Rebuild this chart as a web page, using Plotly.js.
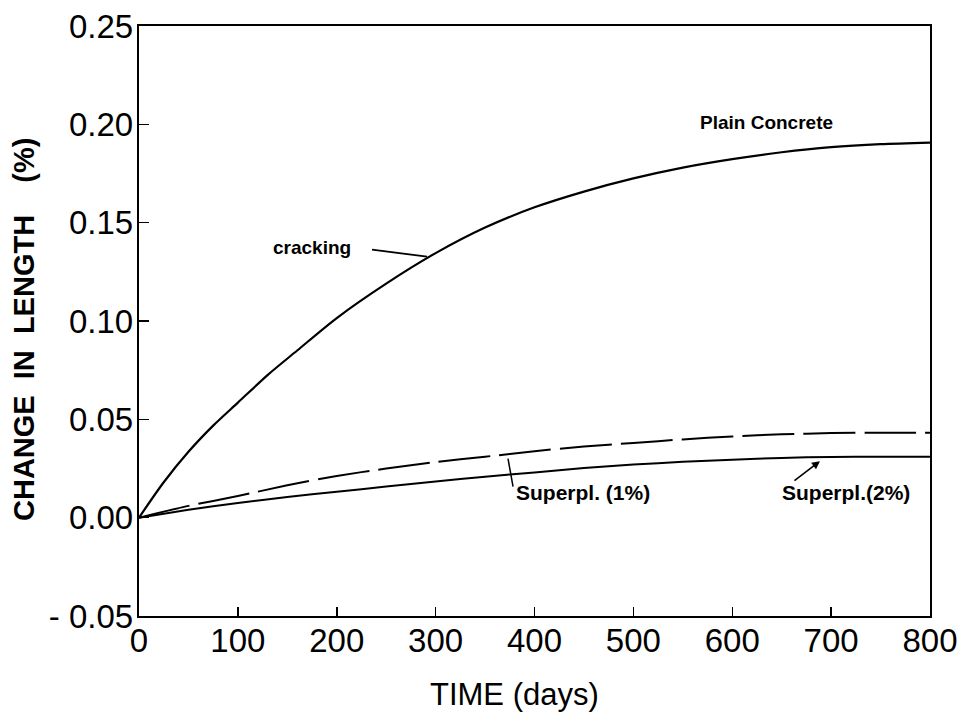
<!DOCTYPE html>
<html>
<head>
<meta charset="utf-8">
<script src="https://cdn.plot.ly/plotly-3.0.1.min.js"></script>
<style>html,body{margin:0;padding:0;background:#fff;}#chart{width:966px;height:715px;}</style>
</head>
<body>
<div id="chart"></div>
<script>
// ---- data ----
var plainDays = [0, 25, 50, 75, 100, 130, 160, 200, 250, 300, 350, 400, 450, 500, 550, 600, 650, 700, 750, 800];
var plainConcrete = [0, 0.018, 0.0335, 0.0468, 0.0585, 0.0725, 0.085, 0.1015, 0.119, 0.1345, 0.1475, 0.1578, 0.1658, 0.1725, 0.178, 0.1823, 0.1858, 0.1884, 0.1899, 0.1907];

var superDays = [0, 50, 100, 150, 200, 250, 300, 350, 400, 450, 500, 550, 600, 650, 700, 750, 800];
var superpl1 = [0, 0.006, 0.011, 0.0165, 0.0212, 0.025, 0.0283, 0.031, 0.0338, 0.0362, 0.038, 0.0398, 0.0413, 0.0424, 0.043, 0.0432, 0.0432];
var superpl2 = [0, 0.004, 0.0075, 0.0105, 0.0132, 0.0158, 0.0184, 0.0208, 0.023, 0.0252, 0.027, 0.0284, 0.0295, 0.0304, 0.0309, 0.031, 0.031];

var xTickVals = [0, 100, 200, 300, 400, 500, 600, 700, 800];
var xTickText = ['0', '100', '200', '300', '400', '500', '600', '700', '800'];
var yTickVals = [-0.05, 0, 0.05, 0.10, 0.15, 0.20, 0.25];
var yTickText = ['- 0.05', '0.00', '0.05', '0.10', '0.15', '0.20', '0.25'];

var labelPlain = 'Plain Concrete';
var labelCracking = 'cracking';
var label1 = 'Superpl. (1%)';
var label2 = 'Superpl.(2%)';
var xTitle = 'TIME (days)';
var yTitle = 'CHANGE\u00a0 IN\u00a0 LENGTH\u00a0\u00a0\u00a0 (%)';

// annotation anchor points (data coordinates)
var plainLabelPos = [565, 0.2008];
var crackLabelPos = [133, 0.1375];
var crackLeader = [[235.7, 0.1363], [291.3, 0.1327]];
var sp1LabelPos = [449, 0.0126];
var sp1Leader = [[373.2, 0.0300], [378.3, 0.0158]];
var sp2LabelPos = [715, 0.0126];
var sp2Arrow = [[661.4, 0.0183], [688.7, 0.0287]];

var FONT = 'Liberation Sans, Arial, sans-serif';

var traces = [
  {x: plainDays, y: plainConcrete, mode: 'lines', line: {color: '#000', width: 2.2, shape: 'spline', smoothing: 0.8}, hoverinfo: 'skip'},
  {x: superDays, y: superpl1, mode: 'lines', line: {color: '#000', width: 2, shape: 'spline', smoothing: 0.6, dash: '52px,9px'}, hoverinfo: 'skip'},
  {x: superDays, y: superpl2, mode: 'lines', line: {color: '#000', width: 2, shape: 'spline', smoothing: 0.6}, hoverinfo: 'skip'}
];

var layout = {
  width: 966, height: 715,
  margin: {l: 139, r: 36, t: 26, b: 99},
  paper_bgcolor: '#fff', plot_bgcolor: '#fff',
  showlegend: false,
  font: {family: FONT, color: '#000'},
  xaxis: {
    range: [0, 800], tickvals: xTickVals, ticktext: xTickText,
    ticks: 'inside', ticklen: 9, tickwidth: 1.5, tickcolor: '#000',
    showline: true, linecolor: '#000', linewidth: 2.2, mirror: true,
    showgrid: false, zeroline: false, ticklabelstandoff: -6,
    tickfont: {family: FONT, size: 33, color: '#000'}
  },
  yaxis: {
    range: [-0.05, 0.25], tickvals: yTickVals, ticktext: yTickText,
    ticks: 'inside', ticklen: 10, tickwidth: 1.5, tickcolor: '#000',
    showline: true, linecolor: '#000', linewidth: 2.2, mirror: true,
    showgrid: false, zeroline: false, ticklabelstandoff: -3,
    tickfont: {family: FONT, size: 33, color: '#000'}
  },
  shapes: [
    {type: 'line', xref: 'x', yref: 'y', x0: crackLeader[0][0], y0: crackLeader[0][1], x1: crackLeader[1][0], y1: crackLeader[1][1], line: {color: '#000', width: 1.8}},
    {type: 'line', xref: 'x', yref: 'y', x0: sp1Leader[0][0], y0: sp1Leader[0][1], x1: sp1Leader[1][0], y1: sp1Leader[1][1], line: {color: '#000', width: 1.5}}
  ],
  annotations: [
    {x: plainLabelPos[0], y: plainLabelPos[1], xref: 'x', yref: 'y', text: labelPlain, showarrow: false, xanchor: 'left', yanchor: 'middle', font: {family: FONT, size: 19, color: '#000', weight: 'bold'}},
    {x: crackLabelPos[0], y: crackLabelPos[1], xref: 'x', yref: 'y', text: labelCracking, showarrow: false, xanchor: 'left', yanchor: 'middle', font: {family: FONT, size: 19, color: '#000', weight: 'bold'}},
    {x: sp1LabelPos[0], y: sp1LabelPos[1], xref: 'x', yref: 'y', text: label1, showarrow: false, xanchor: 'center', yanchor: 'middle', font: {family: FONT, size: 21, color: '#000', weight: 'bold'}},
    {x: sp2LabelPos[0], y: sp2LabelPos[1], xref: 'x', yref: 'y', text: label2, showarrow: false, xanchor: 'center', yanchor: 'middle', font: {family: FONT, size: 21, color: '#000', weight: 'bold'}},
    {x: sp2Arrow[1][0], y: sp2Arrow[1][1], ax: sp2Arrow[0][0], ay: sp2Arrow[0][1], xref: 'x', yref: 'y', axref: 'x', ayref: 'y', text: '', showarrow: true, arrowhead: 2, arrowsize: 1, arrowwidth: 1.6, arrowcolor: '#000'},
    {x: 24, y: 330, xref: 'paper', yref: 'paper', text: yTitle, showarrow: false, textangle: -90, xanchor: 'center', yanchor: 'middle', font: {family: FONT, size: 29, color: '#000', weight: 'bold'}},
    {x: 514, y: 694, xref: 'paper', yref: 'paper', text: xTitle, showarrow: false, xanchor: 'center', yanchor: 'middle', font: {family: FONT, size: 31, color: '#000'}}
  ]
};

// convert pixel-placed titles to paper coords
(function () {
  var pw = layout.width - layout.margin.l - layout.margin.r;
  var ph = layout.height - layout.margin.t - layout.margin.b;
  [5, 6].forEach(function (i) {
    var a = layout.annotations[i];
    a.x = (a.x - layout.margin.l) / pw;
    a.y = 1 - (a.y - layout.margin.t) / ph;
  });
})();

Plotly.newPlot('chart', traces, layout, {staticPlot: true, displayModeBar: false});
</script>
</body>
</html>
